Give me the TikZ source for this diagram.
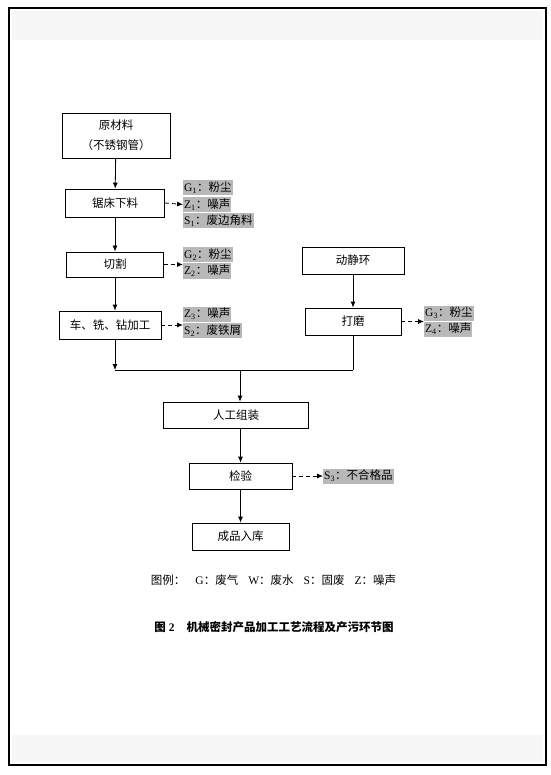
\documentclass[tikz,border=0pt]{standalone}
\usepackage{fontspec}
\setmainfont{Liberation Serif}
\newfontfamily\cjk{Noto Sans CJK SC}
\usetikzlibrary{arrows.meta}

\begin{document}
\begin{tikzpicture}[x=1pt, y=-1pt, >={Latex[length=6pt,width=5pt]},
    every node/.style={font=\fontsize{11.5}{20}\selectfont},
    procbox/.style={draw, line width=0.8pt, align=center, inner sep=0pt},
    pollut/.style={fill=black!28, inner sep=1pt, anchor=west, minimum height=15pt},
    emit/.style={->, line width=0.8pt, dash pattern=on 4pt off 3pt},
    flow/.style={->, line width=0.8pt}]
    % page frame
    \useasboundingbox (0,0) rectangle (550,775);
    \fill[black!3] (12,11) rectangle (543,40);
    \fill[black!3] (12,735) rectangle (543,762);
    \draw[line width=1.6pt] (9,8) rectangle (546,765);
    % process boxes
    \node[procbox, minimum width=108pt, minimum height=45pt] (raw) at (116,135.5) {\cjk 原材料\\\cjk （不锈钢管）};
    \node[procbox, minimum width=99pt, minimum height=28pt] (saw) at (115,203) {\cjk 锯床下料};
    \node[procbox, minimum width=97pt, minimum height=25pt] (cut) at (115,264.5) {\cjk 切割};
    \node[procbox, minimum width=102pt, minimum height=28pt] (mach) at (110,325) {\cjk 车、铣、钻加工};
    \node[procbox, minimum width=102pt, minimum height=27pt] (ring) at (353,260.5) {\cjk 动静环};
    \node[procbox, minimum width=96pt, minimum height=27pt] (grind) at (353,321.5) {\cjk 打磨};
    \node[procbox, minimum width=145pt, minimum height=26pt] (assem) at (236,415) {\cjk 人工组装};
    \node[procbox, minimum width=103pt, minimum height=26pt] (insp) at (240.5,476) {\cjk 检验};
    \node[procbox, minimum width=97pt, minimum height=27pt] (store) at (240.5,536.5) {\cjk 成品入库};
    % pollutant labels
    \node[pollut] (g1) at (183,188) {G\textsubscript{1}\cjk ：粉尘};
    \node[pollut] (z1) at (183,204.5) {Z\textsubscript{1}\cjk ：噪声};
    \node[pollut] (s1) at (183,221) {S\textsubscript{1}\cjk ：废边角料};
    \node[pollut] (g2) at (183,255) {G\textsubscript{2}\cjk ：粉尘};
    \node[pollut] (z2) at (183,271) {Z\textsubscript{2}\cjk ：噪声};
    \node[pollut] (z3) at (183,314) {Z\textsubscript{3}\cjk ：噪声};
    \node[pollut] (s2) at (183,330.5) {S\textsubscript{2}\cjk ：废铁屑};
    \node[pollut] (g3) at (424,313) {G\textsubscript{3}\cjk ：粉尘};
    \node[pollut] (z4) at (424,329) {Z\textsubscript{4}\cjk ：噪声};
    \node[pollut] (s3) at (323,476) {S\textsubscript{3}\cjk ：不合格品};
    % merge line
    \coordinate (mergeL) at (115,370);
    \coordinate (mergeR) at (353,370);
    \coordinate (mergeC) at (240,370);
    % main flow
    \draw[flow] (raw) -- (saw);
    \draw[flow] (saw) -- (cut);
    \draw[flow] (cut) -- (cut |- mach.north);
    \draw[flow] (mach.south -| cut) -- (mergeL);
    \draw[flow] (ring) -- (grind);
    \draw[line width=0.8pt] (grind) -- (mergeR);
    \draw[line width=0.8pt] (mergeL) -- (mergeR);
    \draw[flow] (mergeC) -- (mergeC |- assem.north);
    \draw[flow] (insp |- assem.south) -- (insp);
    \draw[flow] (insp) -- (store);
    % emissions
    \draw[emit] (saw.east) -- (z1.west);
    \draw[emit] (cut.east) -- (cut.east -| z2.west);
    \draw[emit] (mach.east) -- (mach.east -| s2.west);
    \draw[emit] (grind.east) -- (grind.east -| g3.west);
    \draw[emit] (insp.east) -- (s3.west);
    % legend and caption
    \node (legend) at (273.5,580) {\cjk 图例：\hspace{10pt}\normalfont G\cjk ：废气\hspace{10pt}\normalfont W\cjk ：废水\hspace{10pt}\normalfont S\cjk ：固废\hspace{10pt}\normalfont Z\cjk ：噪声};
    \node[font=\fontsize{11.5}{14}\selectfont\bfseries] (caption) at (274,627) {\cjk 图\normalfont\bfseries\ 2\hspace{12pt}\cjk 机械密封产品加工工艺流程及产污环节图};
\end{tikzpicture}
\end{document}
